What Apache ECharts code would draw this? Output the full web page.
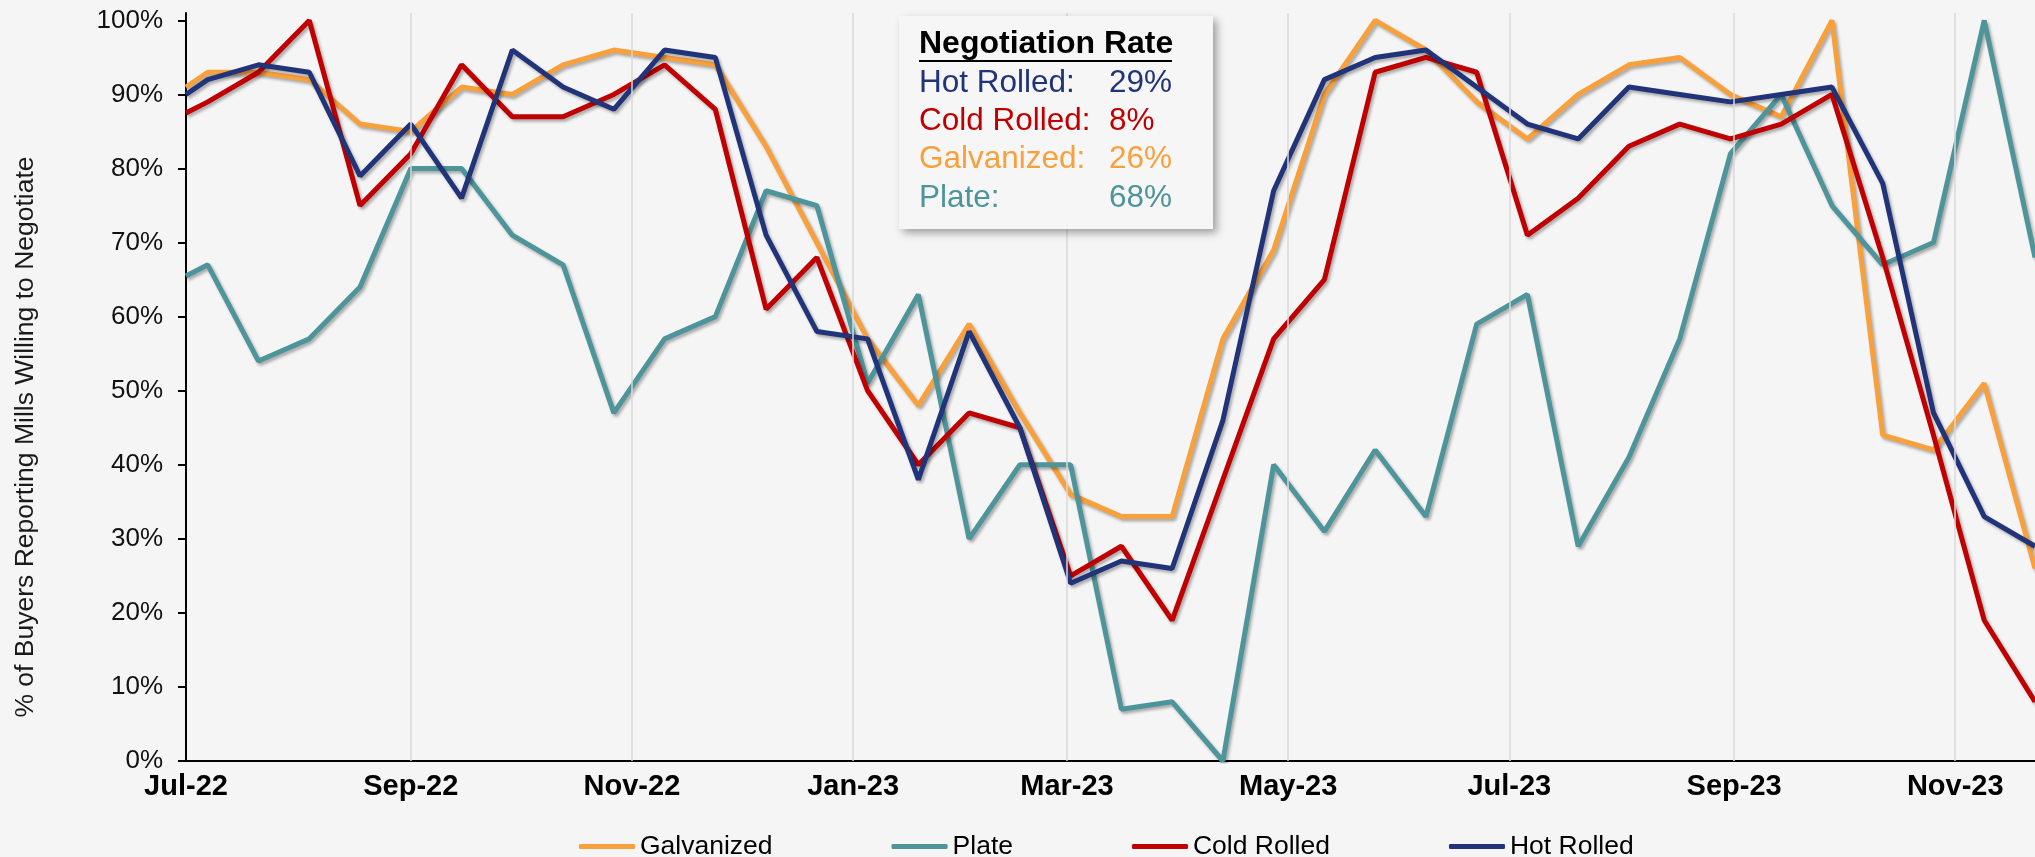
<!DOCTYPE html>
<html>
<head>
<meta charset="utf-8">
<script src="https://cdn.jsdelivr.net/npm/echarts@6/dist/echarts.min.js"></script>
<style>
html,body{margin:0;padding:0;background:#f5f5f5;}
#c{width:2035px;height:857px;}
</style>
</head>
<body>
<div id="c"></div>
<script>
// ---- data ----
const dates = ['2022-07-01','2022-07-07','2022-07-21','2022-08-04','2022-08-18','2022-09-01','2022-09-15','2022-09-29','2022-10-13','2022-10-27','2022-11-10','2022-11-24','2022-12-08','2022-12-22','2023-01-05','2023-01-19','2023-02-02','2023-02-16','2023-03-02','2023-03-16','2023-03-30','2023-04-13','2023-04-27','2023-05-11','2023-05-25','2023-06-08','2023-06-22','2023-07-06','2023-07-20','2023-08-03','2023-08-17','2023-08-31','2023-09-14','2023-09-28','2023-10-12','2023-10-26','2023-11-09','2023-11-23'];
const galvanized = [91,93,93,92,86,85,91,90,94,96,95,94,83,70,57,48,59,47,36,33,33,57,69,90,100,96,89,84,90,94,95,90,87,100,44,42,51,26];
const plate      = [65.5,67,54,57,64,80,80,71,67,47,57,60,77,75,51,63,30,40,40,7,8,0,40,31,42,33,59,63,29,41,57,82,90,75,67,70,100,68];
const coldRolled = [87.5,89,93,100,75,82,94,87,87,90,94,88,61,68,50,40,47,45,25,29,19,38,57,65,93,95,93,71,76,83,86,84,86,90,68,44,19,8];
const hotRolled  = [90,92,94,93,79,86,76,96,91,88,96,95,71,58,57,38,58,45,24,27,26,46,77,92,95,96,91,86,84,91,90,89,90,91,78,47,33,29];
const seriesNames = ['Galvanized','Plate','Cold Rolled','Hot Rolled'];
const xTickDates = ['2022-07-01','2022-09-01','2022-11-01','2023-01-01','2023-03-01','2023-05-01','2023-07-01','2023-09-01','2023-11-01'];
const yTicks = [0,10,20,30,40,50,60,70,80,90,100];
const yAxisTitle = '% of Buyers Reporting Mills Willing to Negotiate';
const boxTitle = 'Negotiation Rate';
const rateNames = ['Hot Rolled:','Cold Rolled:','Galvanized:','Plate:'];
const rateValues = ['29%','8%','26%','68%'];

// ---- chart ----
const FONT = '"Liberation Sans", Arial, sans-serif';
const MONTHS = ['Jan','Feb','Mar','Apr','May','Jun','Jul','Aug','Sep','Oct','Nov','Dec'];
const toTs = s => { const p = s.split('-').map(Number); return Date.UTC(p[0], p[1]-1, p[2]); };
const colors = ['#F8A03C','#4E949B','#C00000','#213379'];
const rateColors = ['#213379','#C00000','#F8A03C','#4E949B'];
const seriesValues = [galvanized, plate, coldRolled, hotRolled];

const lineSeries = seriesNames.map((name, k) => ({
  name: name,
  type: 'line',
  z: 3,
  symbol: 'none',
  showSymbol: false,
  clip: true,
  color: colors[k],
  itemStyle: { color: colors[k] },
  lineStyle: { color: colors[k], width: 5, shadowColor: 'rgba(0,0,0,0.3)', shadowBlur: 3, shadowOffsetX: 2, shadowOffsetY: 2.5 },
  data: dates.map((d, i) => [toTs(d), seriesValues[k][i]])
}));

const gridSeries = {
  name: 'grid',
  type: 'line',
  z: 1,
  data: [],
  silent: true,
  markLine: {
    silent: true,
    symbol: ['none','none'],
    label: { show: false },
    lineStyle: { color: '#d9d9d9', width: 1.5, type: 'solid' },
    emphasis: { disabled: true },
    data: xTickDates.slice(1).map(d => ({ xAxis: toTs(d) }))
  }
};

const rowGraphics = [];
rateNames.forEach((n, i) => {
  const y = 83 + i * 38.4;
  rowGraphics.push({ type: 'text', z: 101, x: 919, y: y, style: { text: n, font: '31.5px ' + FONT, fill: rateColors[i], align: 'left', verticalAlign: 'middle' } });
  rowGraphics.push({ type: 'text', z: 101, x: 1109, y: y, style: { text: rateValues[i], font: '31.5px ' + FONT, fill: rateColors[i], align: 'left', verticalAlign: 'middle' } });
});

const option = {
  backgroundColor: '#f5f5f5',
  animation: false,
  grid: { left: 186, right: 0, top: 13, bottom: 96, containLabel: false },
  xAxis: {
    type: 'value',
    min: toTs(dates[0]),
    max: toTs(dates[dates.length - 1]),
    axisLine: { show: true, lineStyle: { color: '#000', width: 2 } },
    axisTick: { show: false },
    splitLine: { show: false },
    axisLabel: {
      customValues: xTickDates.map(toTs),
      formatter: v => { const d = new Date(v); return MONTHS[d.getUTCMonth()] + '-' + String(d.getUTCFullYear()).slice(2); },
      fontFamily: FONT, fontSize: 29, fontWeight: 'bold', color: '#000', margin: 11, hideOverlap: false
    }
  },
  yAxis: {
    type: 'value',
    min: 0,
    max: 101,
    axisLine: { show: true, lineStyle: { color: '#000', width: 2 } },
    axisTick: { show: true, customValues: yTicks, length: 8, lineStyle: { color: '#000', width: 2 } },
    axisLabel: { customValues: yTicks, formatter: '{value}%', fontFamily: FONT, fontSize: 26, color: '#111', margin: 23 },
    splitLine: { show: false }
  },
  legend: {
    data: seriesNames,
    left: 574,
    top: 828,
    itemWidth: 56,
    itemHeight: 5,
    itemGap: 119,
    icon: 'roundRect',
    textStyle: { fontFamily: FONT, fontSize: 26.5, color: '#000' }
  },
  series: [gridSeries].concat(lineSeries),
  graphic: [
    { type: 'text', x: 26, y: 437, rotation: Math.PI / 2, style: { text: yAxisTitle, font: '26.5px ' + FONT, fill: '#1a1a1a', align: 'center', verticalAlign: 'middle' } },
    { type: 'rect', z: 100, shape: { x: 899, y: 16, width: 314, height: 213 }, style: { fill: '#f6f6f6', shadowBlur: 8, shadowOffsetX: 4, shadowOffsetY: 4, shadowColor: 'rgba(0,0,0,0.35)' } },
    { type: 'text', z: 101, x: 919, y: 44, style: { text: boxTitle, font: 'bold 32px ' + FONT, fill: '#000', align: 'left', verticalAlign: 'middle' } },
    { type: 'line', z: 101, shape: { x1: 919, y1: 61, x2: 1172, y2: 61 }, style: { stroke: '#000', lineWidth: 2 } }
  ].concat(rowGraphics)
};

const chart = echarts.init(document.getElementById('c'), null, { renderer: 'canvas' });
chart.setOption(option);
</script>
</body>
</html>
